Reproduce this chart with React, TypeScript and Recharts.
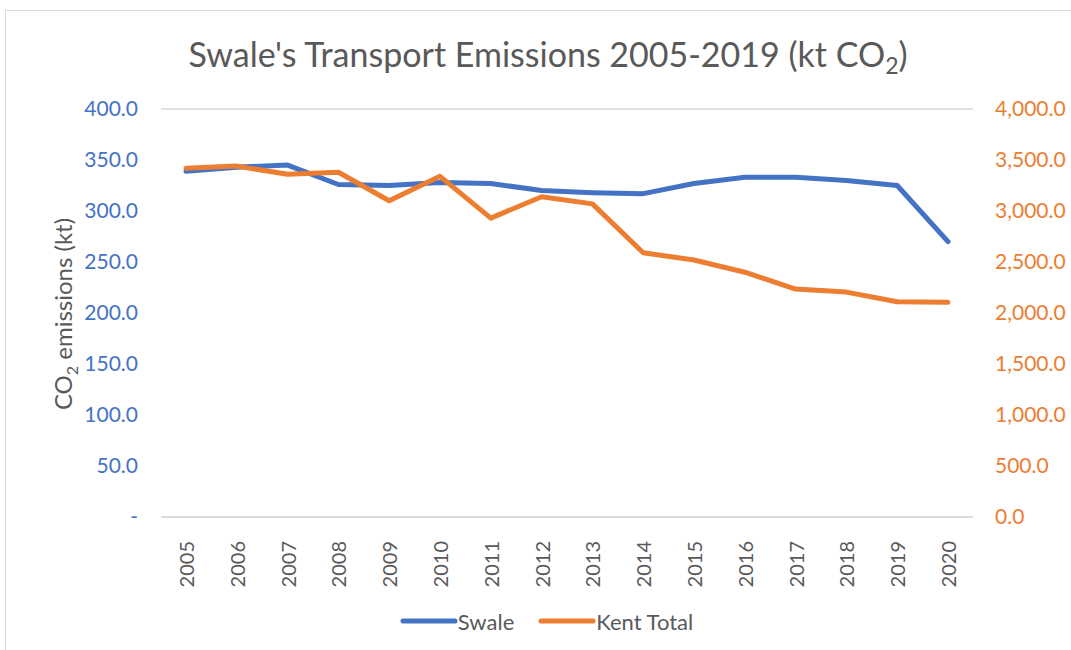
import React from "react";
import {
  LineChart,
  Line,
  XAxis,
  YAxis,
  CartesianGrid,
  Legend,
} from "recharts";

const years = [
  "2005", "2006", "2007", "2008", "2009", "2010", "2011", "2012",
  "2013", "2014", "2015", "2016", "2017", "2018", "2019", "2020",
];
const swale = [339, 343, 345, 326, 325, 328, 327, 320, 318, 317, 327, 333, 333, 330, 325, 270];
const kentTotal = [3420, 3440, 3360, 3380, 3100, 3340, 2930, 3140, 3070, 2590, 2520, 2400, 2235, 2205, 2110, 2105];
const leftTicks = [0, 50, 100, 150, 200, 250, 300, 350, 400];
const rightTicks = [0, 500, 1000, 1500, 2000, 2500, 3000, 3500, 4000];

const data = years.map((year, i) => ({
  year,
  swale: swale[i],
  kent: kentTotal[i],
}));

const FONT = "Lato, 'Open Sans', sans-serif";
const BLUE = "#4472C4";
const ORANGE = "#ED7D31";
const GREY = "#595959";

const fmtLeft = (v: number) => (v === 0 ? "-" : v.toFixed(1));
const fmtRight = (v: number) =>
  v.toLocaleString("en-US", { minimumFractionDigits: 1, maximumFractionDigits: 1 });

// rotated year labels
const YearTick = (props: any) => {
  const { x, y, payload } = props;
  return (
    <text
      x={0}
      y={0}
      transform={`translate(${x + 8},${y + 16}) rotate(-90)`}
      textAnchor="end"
      fill={GREY}
      fontSize={20}
      fontFamily={FONT}
    >
      {payload.value}
    </text>
  );
};

const AxisLabel = () => (
  <text
    x={0}
    y={0}
    transform="translate(72,314) rotate(-90)"
    textAnchor="middle"
    fill={GREY}
    fontSize={24}
    fontFamily={FONT}
  >
    CO
    <tspan fontSize={16} dy={6}>2</tspan>
    <tspan dy={-6}> emissions (kt)</tspan>
  </text>
);

const LegendContent = () => (
  <div
    style={{
      display: "flex",
      justifyContent: "center",
      height: 30,
      gap: 24,
      fontFamily: FONT,
      fontSize: 22,
      color: GREY,
      paddingLeft: 22,
    }}
  >
    {[
      { name: "Swale", color: BLUE },
      { name: "Kent Total", color: ORANGE },
    ].map((item) => (
      <div key={item.name} style={{ display: "flex", alignItems: "center" }}>
        <svg width={58} height={10}>
          <line x1={3} y1={5} x2={55} y2={5} stroke={item.color} strokeWidth={5} strokeLinecap="round" />
        </svg>
        <span>{item.name}</span>
      </div>
    ))}
  </div>
);

export default function App() {
  return (
    <div style={{ position: "absolute", left: 0, top: 0, width: 1071, height: 650, background: "#fff", overflow: "hidden" }}>
      <div
        style={{
          position: "absolute",
          left: 5,
          top: 10,
          width: 1080,
          height: 660,
          border: "1px solid #d9d9d9",
          boxSizing: "border-box",
        }}
      />
      <svg style={{ position: "absolute", left: 0, top: 0 }} width={1071} height={100}>
        <text x={548} y={67} textAnchor="middle" fill={GREY} fontSize={34} fontFamily={FONT}>
          Swale's Transport Emissions 2005-2019 (kt CO
          <tspan fontSize={23} dy={7}>2</tspan>
          <tspan dy={-7}>)</tspan>
        </text>
      </svg>
      <div style={{ position: "absolute", left: 0, top: 0 }}>
        <LineChart
          width={1071}
          height={650}
          data={data}
          margin={{ top: 109, right: 0, bottom: 0, left: 0 }}
        >
          <CartesianGrid vertical={false} stroke="#d9d9d9" strokeWidth={1.5} />
          <XAxis
            dataKey="year"
            tick={<YearTick />}
            tickLine={false}
            axisLine={{ stroke: "#d9d9d9", strokeWidth: 1.5 }}
            interval={0}
            padding={{ left: 25, right: 25 }}
            height={103}
          />
          <YAxis
            yAxisId="left"
            width={161}
            domain={[0, 400]}
            ticks={leftTicks}
            tickFormatter={fmtLeft}
            axisLine={false}
            tickLine={false}
            tickMargin={17}
            tick={{ fill: BLUE, fontSize: 21, fontFamily: FONT }}
            label={<AxisLabel />}
          />
          <YAxis
            yAxisId="right"
            orientation="right"
            width={98}
            domain={[0, 4000]}
            ticks={rightTicks}
            tickFormatter={fmtRight}
            axisLine={false}
            tickLine={false}
            tickMargin={16}
            tick={{ fill: ORANGE, fontSize: 21, fontFamily: FONT, textAnchor: "start" }}
          />
          <Legend
            verticalAlign="bottom"
            height={30}
            content={<LegendContent />}
            wrapperStyle={{ bottom: 14 }}
          />
          <Line
            yAxisId="left"
            dataKey="swale"
            name="Swale"
            stroke={BLUE}
            strokeWidth={5}
            strokeLinecap="round"
            strokeLinejoin="round"
            dot={false}
            isAnimationActive={false}
          />
          <Line
            yAxisId="right"
            dataKey="kent"
            name="Kent Total"
            stroke={ORANGE}
            strokeWidth={5}
            strokeLinecap="round"
            strokeLinejoin="round"
            dot={false}
            isAnimationActive={false}
          />
        </LineChart>
      </div>
    </div>
  );
}
